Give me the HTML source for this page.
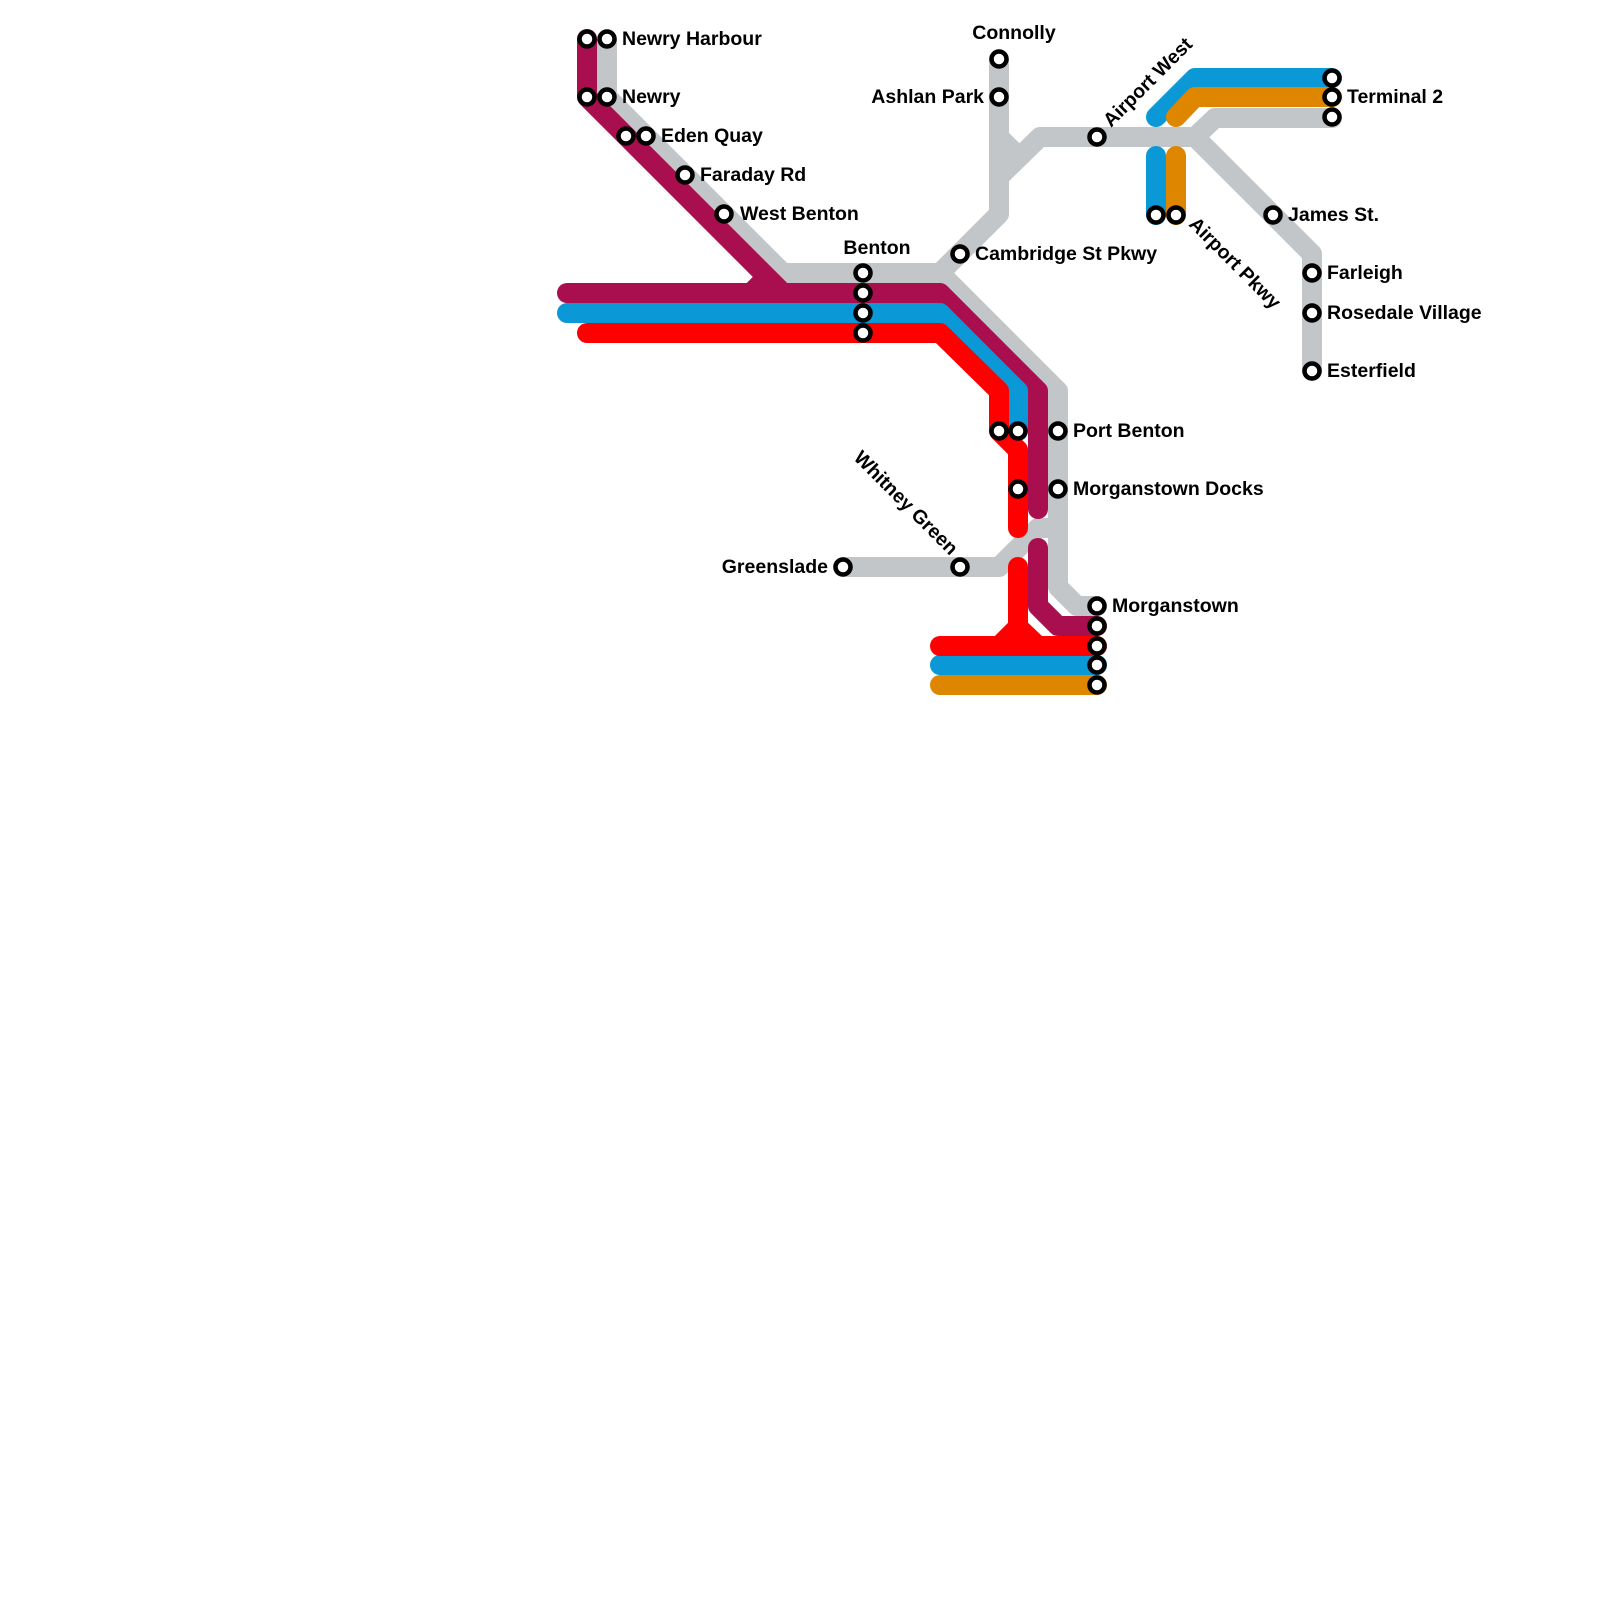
<!DOCTYPE html>
<html><head><meta charset="utf-8"><style>
html,body{margin:0;padding:0;background:#fff}
svg{display:block}
text{font-family:"Liberation Sans",Arial,sans-serif;font-weight:bold;font-size:19.5px;fill:#000}
</style></head><body>
<svg width="1600" height="1600" viewBox="0 0 1600 1600" xmlns="http://www.w3.org/2000/svg">
<g fill="none" stroke-width="20" stroke-linejoin="round" stroke-linecap="round">
<g stroke="#c3c6c8">
<path d="M607,39 V97 L783,273 H940 L999,214 V59" stroke-linecap="butt"/>
<path d="M940,273 L1058,391 V587 L1077,606 H1097"/>
<path d="M999,137 L1012,150"/>
<path d="M999,177 L1040,137 H1195 L1215,118 H1332"/>
<path d="M1195,137 L1312,254 V371"/>
<path d="M843,567 H999 L1038,528 H1058"/>
</g>
<g stroke="#a90f4f">
<path d="M587,39 V97 L783,293"/>
<path d="M567,293 H940 L1038,391 V509"/>
<path d="M748,293 L766,275" stroke-width="16"/>
<path d="M1038,548 V606 L1058,626 H1097"/>
</g>
<g stroke="#0a98d6">
<path d="M567,313 H940 L1018,391 V431"/>
<path d="M940,665 H1097"/>
<path d="M1156,117 L1195,78 H1332"/>
<path d="M1156,156 V215"/>
</g>
<g stroke="#ff0000">
<path d="M587,333 H940 L999,391 V431 L1018,450 V528"/>
<path d="M1018,567 V630"/>
<path d="M940,646 H1097"/>
<path d="M999,646 L1018,627 L1038,646" stroke-linejoin="miter"/>
</g>
<g stroke="#df8600">
<path d="M940,685 H1097"/>
<path d="M1176,117 L1195,97 H1332"/>
<path d="M1176,156 V215"/>
</g>
</g>
<g fill="#fff" stroke="#000" stroke-width="4.5">
<circle cx="587" cy="39" r="7.5"/><circle cx="607" cy="39" r="7.5"/>
<circle cx="587" cy="97" r="7.5"/><circle cx="607" cy="97" r="7.5"/>
<circle cx="626" cy="136" r="7.5"/><circle cx="646" cy="136" r="7.5"/>
<circle cx="685" cy="175" r="7.5"/><circle cx="724" cy="214" r="7.5"/>
<circle cx="863" cy="273" r="7.5"/><circle cx="863" cy="293" r="7.5"/><circle cx="863" cy="313" r="7.5"/><circle cx="863" cy="333" r="7.5"/>
<circle cx="999" cy="59" r="7.5"/><circle cx="999" cy="97" r="7.5"/>
<circle cx="960" cy="254" r="7.5"/>
<circle cx="1097" cy="137" r="7.5"/>
<circle cx="1156" cy="215" r="7.5"/><circle cx="1176" cy="215" r="7.5"/>
<circle cx="1273" cy="215" r="7.5"/>
<circle cx="1332" cy="78" r="7.5"/><circle cx="1332" cy="97" r="7.5"/><circle cx="1332" cy="117" r="7.5"/>
<circle cx="1312" cy="273" r="7.5"/><circle cx="1312" cy="313" r="7.5"/><circle cx="1312" cy="371" r="7.5"/>
<circle cx="999" cy="431" r="7.5"/><circle cx="1018" cy="431" r="7.5"/><circle cx="1058" cy="431" r="7.5"/>
<circle cx="1018" cy="489" r="7.5"/><circle cx="1058" cy="489" r="7.5"/>
<circle cx="843" cy="567" r="7.5"/><circle cx="960" cy="567" r="7.5"/>
<circle cx="1097" cy="606" r="7.5"/><circle cx="1097" cy="626" r="7.5"/><circle cx="1097" cy="646" r="7.5"/><circle cx="1097" cy="665" r="7.5"/><circle cx="1097" cy="685" r="7.5"/>
</g>
<text x="622" y="45">Newry Harbour</text>
<text x="622" y="103">Newry</text>
<text x="661" y="142">Eden Quay</text>
<text x="700" y="181">Faraday Rd</text>
<text x="740" y="220">West Benton</text>
<text x="877" y="254" text-anchor="middle">Benton</text>
<text x="1014" y="39" text-anchor="middle">Connolly</text>
<text x="984" y="103" text-anchor="end">Ashlan Park</text>
<text x="975" y="260">Cambridge St Pkwy</text>
<text x="1288" y="221">James St.</text>
<text x="1347" y="103">Terminal 2</text>
<text x="1327" y="279">Farleigh</text>
<text x="1327" y="319">Rosedale Village</text>
<text x="1327" y="377">Esterfield</text>
<text x="1073" y="437">Port Benton</text>
<text x="1073" y="495">Morganstown Docks</text>
<text x="828" y="573" text-anchor="end">Greenslade</text>
<text x="1112" y="612">Morganstown</text>
<text transform="translate(1111,128) rotate(-45)">Airport West</text>
<text transform="translate(1188,225) rotate(45)">Airport Pkwy</text>
<text transform="translate(950,556) rotate(45)" text-anchor="end">Whitney Green</text>
</svg>
</body></html>
